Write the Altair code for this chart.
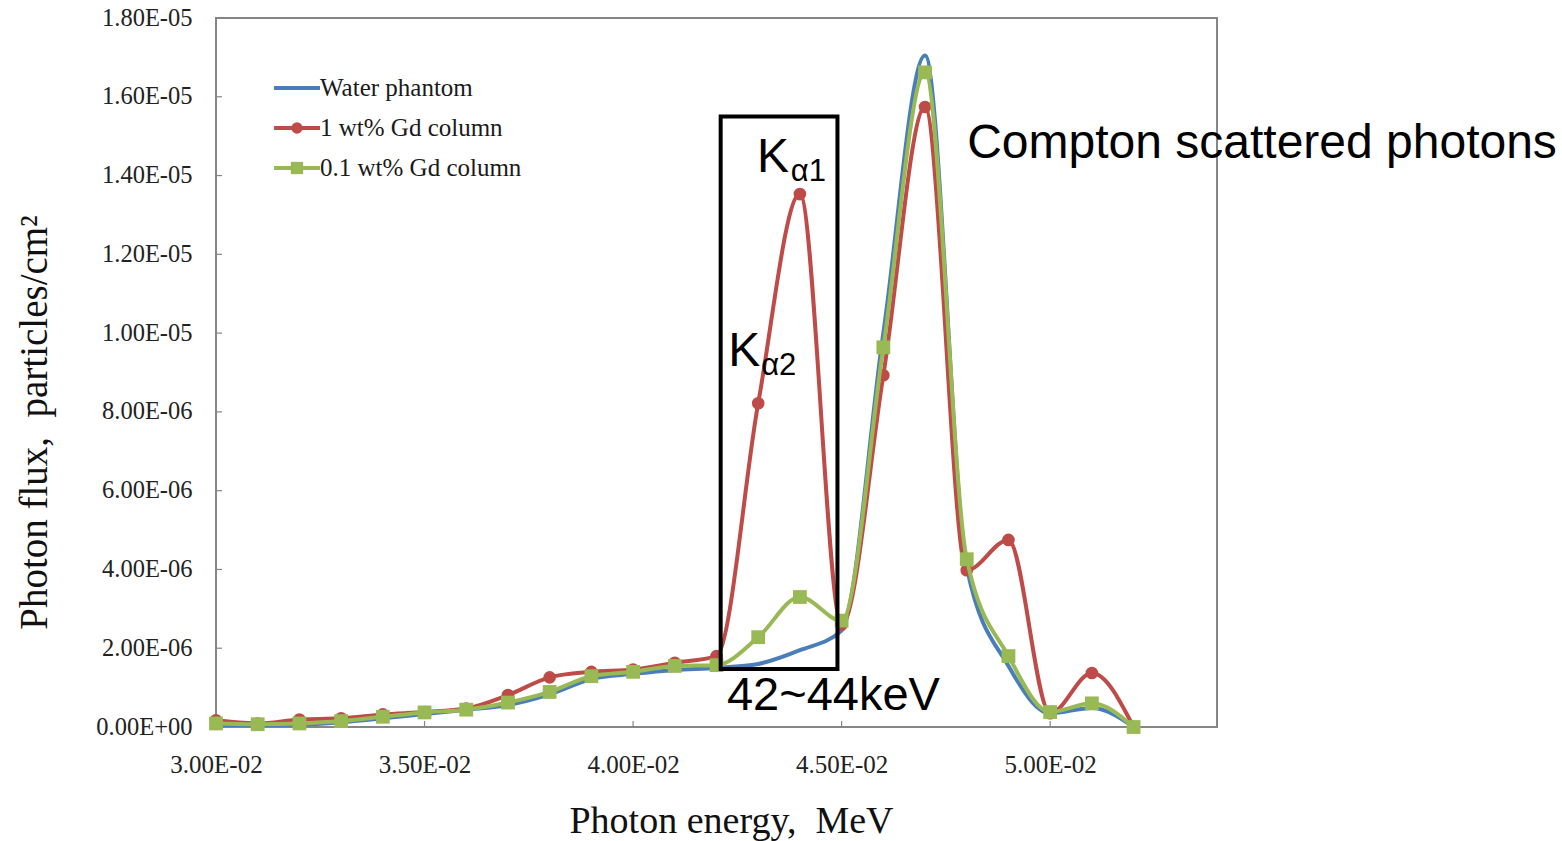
import altair as alt
import pandas as pd

# ---------------- data (flux in units of 1E-06 particles/cm2) ----------------
energy = [0.030, 0.031, 0.032, 0.033, 0.034, 0.035, 0.036, 0.037, 0.038, 0.039,
          0.040, 0.041, 0.042, 0.043, 0.044, 0.045, 0.046, 0.047, 0.048, 0.049,
          0.050, 0.051, 0.052]
water = [0.05, 0.05, 0.06, 0.12, 0.22, 0.33, 0.44, 0.56, 0.83, 1.22,
         1.35, 1.45, 1.50, 1.60, 1.95, 2.45, 10.0, 17.05, 4.05, 1.55,
         0.35, 0.48, 0.0]
gd1 = [0.17, 0.09, 0.19, 0.22, 0.32, 0.38, 0.47, 0.81, 1.26, 1.40,
       1.46, 1.63, 1.80, 8.22, 13.53, 2.60, 8.93, 15.74, 3.98, 4.75,
       0.35, 1.37, 0.0]
gd01 = [0.09, 0.07, 0.09, 0.15, 0.26, 0.37, 0.44, 0.62, 0.89, 1.29,
        1.40, 1.55, 1.57, 2.28, 3.30, 2.70, 9.64, 16.62, 4.26, 1.80,
        0.38, 0.60, 0.0]

series_names = ["Water phantom", "1 wt% Gd column", "0.1 wt% Gd column"]
series_values = [water, gd1, gd01]
colors = ["#4A7EBB", "#BE4B48", "#98B954"]
markers = [None, "circle", "square"]
marker_sizes = [0, 160, 190]

x_ticks = [0.030, 0.035, 0.040, 0.045, 0.050]
y_ticks = [0, 2, 4, 6, 8, 10, 12, 14, 16, 18]

# annotation box (Kα region) and labels, in data units
box = pd.DataFrame({"energy": [0.0421], "energy2": [0.0449], "flux": [1.47], "flux2": [15.5]})
ann = pd.DataFrame({
    "energy": [0.04297, 0.04378, 0.04228, 0.04307, 0.04225, 0.04801],
    "flux":   [14.09, 13.86, 9.16, 8.93, 0.43, 14.44],
    "text":   ["K", "α1", "K", "α2", "42~44keV", "Compton scattered photons"],
    "fs":     [48, 31, 48, 31, 47, 48],
})

NB = "\u00a0"

# ---------------- encodings ----------------
W, H = 1001, 709

x_enc = alt.X(
    "energy:Q",
    scale=alt.Scale(domain=[0.030, 0.054], nice=False, zero=False),
    axis=alt.Axis(
        values=x_ticks,
        labelExpr="format(datum.value*100, '.2f') + 'E-02'",
        title="Photon energy," + NB + " MeV",
        labelFontSize=25, labelPadding=25, labelFlush=False,
        titleX=515, titleY=105, titleBaseline="alphabetic", titleAlign="center",
        titleFontSize=38,
    ),
)
y_enc = alt.Y(
    "flux:Q",
    scale=alt.Scale(domain=[0, 18], nice=False),
    axis=alt.Axis(
        values=y_ticks,
        labelExpr="datum.value == 0 ? '0.00E+00' : (datum.value < 9.99 ? format(datum.value, '.2f') + 'E-06' : format(datum.value/10, '.2f') + 'E-05')",
        title="Photon flux," + NB + " particles/cm²",
        labelFontSize=24.5, labelPadding=24, labelFlush=False,
        titleAngle=270, titleX=-170, titleY=404, titleAlign="center",
        titleBaseline="alphabetic", titleFontSize=39,
    ),
)

layers = []

# inner tick marks
layers.append(
    alt.Chart(pd.DataFrame({"energy": x_ticks})).mark_rule(color="#868686", strokeWidth=1.2)
    .encode(x=x_enc, y=alt.value(H), y2=alt.value(H - 6))
)
layers.append(
    alt.Chart(pd.DataFrame({"flux": y_ticks})).mark_rule(color="#868686", strokeWidth=1.2)
    .encode(y=y_enc, x=alt.value(0), x2=alt.value(6))
)

# series
for name, vals, col, mk, ms in zip(series_names, series_values, colors, markers, marker_sizes):
    d = pd.DataFrame({"energy": energy, "flux": vals})
    layers.append(
        alt.Chart(d).mark_line(interpolate="monotone", strokeWidth=4, color=col)
        .encode(x=x_enc, y=y_enc)
    )
    if mk:
        layers.append(
            alt.Chart(d).mark_point(shape=mk, filled=True, size=ms, color=col, opacity=1)
            .encode(x=x_enc, y=y_enc)
        )

# annotation box
layers.append(
    alt.Chart(box).mark_rect(fillOpacity=0, stroke="black", strokeWidth=4)
    .encode(x=x_enc, x2="energy2:Q", y=y_enc, y2="flux2:Q")
)
# annotation texts
layers.append(
    alt.Chart(ann).mark_text(align="left", baseline="alphabetic", font="Liberation Sans", color="black")
    .encode(x=x_enc, y=y_enc, text="text:N", size=alt.Size("fs:Q", scale=None))
)

# manual legend (line + marker), positioned in the top-left corner of the plot
leg_y = [70, 110, 150]
for name, col, mk, ms, ly in zip(series_names, colors, markers, marker_sizes, leg_y):
    ld = pd.DataFrame({"label": [name]})
    layers.append(
        alt.Chart(ld).mark_rule(color=col, strokeWidth=4)
        .encode(x=alt.value(58), x2=alt.value(104), y=alt.value(ly))
    )
    if mk:
        layers.append(
            alt.Chart(ld).mark_point(shape=mk, filled=True, size=ms * 0.8, color=col, opacity=1)
            .encode(x=alt.value(81), y=alt.value(ly))
        )
    layers.append(
        alt.Chart(ld).mark_text(align="left", baseline="middle", font="Liberation Serif",
                                fontSize=25, color="#1a1a1a")
        .encode(x=alt.value(104), y=alt.value(ly), text="label:N")
    )

chart = (
    alt.layer(*layers)
    .properties(
        width=W, height=H,
        autosize=alt.AutoSizeParams(type="none"),
        padding={"left": 216, "top": 18, "right": 345, "bottom": 114},
        background="white",
    )
    .configure_view(stroke="#868686", strokeWidth=2)
    .configure_axis(
        domain=False, grid=False, ticks=False,
        labelFont="Liberation Serif", labelColor="#222222",
        titleFont="Liberation Serif", titleFontWeight="normal", titleColor="#111111",
    )
)

chart.save("out.html", embed_options={"renderer": "svg", "actions": False})
